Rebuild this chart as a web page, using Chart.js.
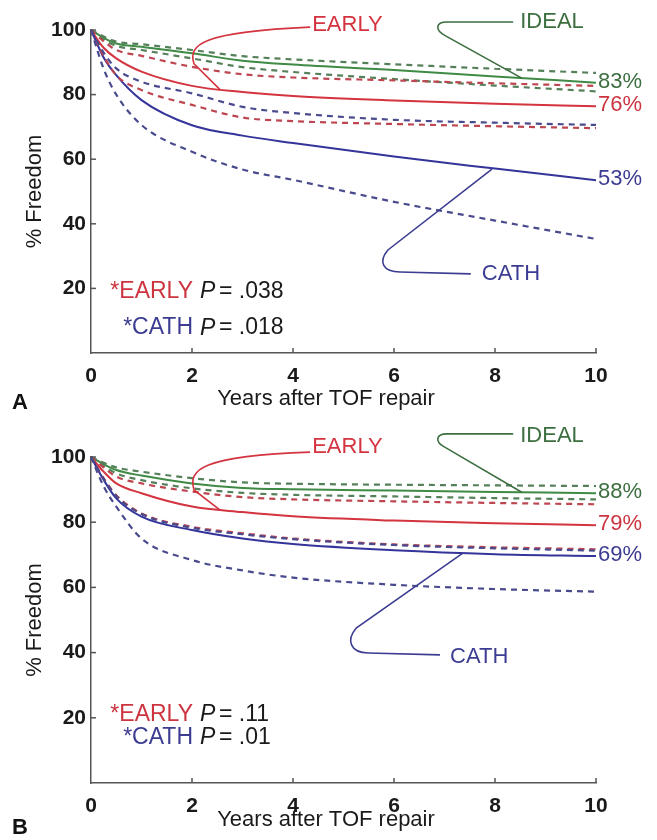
<!DOCTYPE html>
<html>
<head>
<meta charset="utf-8">
<script src="https://cdn.jsdelivr.net/npm/chart.js@4.4.1/dist/chart.umd.min.js"></script>
<style>
  html, body { margin: 0; padding: 0; background: #fff; }
  .panel { position: absolute; left: 0; width: 657px; height: 420px; }
  #panelA { top: 0; }
  #panelB { top: 420px; }
</style>
</head>
<body>
<div class="panel" id="panelA"><canvas id="chartA"></canvas></div>
<div class="panel" id="panelB"><canvas id="chartB"></canvas></div>
<script>
// years after repair where the curves were read
const years = [0, 0.25, 0.5, 1, 2, 3, 4, 6, 8, 10];
const xTicks = [0, 2, 4, 6, 8, 10];
const yTicks = [20, 40, 60, 80, 100];

// Panel A
const idealA      = [100, 97.6, 95.8, 94.8, 92.8, 90.5, 89.3, 87.6, 85.6, 83.7];
const idealHiA    = [100, 98.0, 96.4, 95.6, 93.8, 91.9, 90.9, 89.4, 88.0, 86.7];
const idealLoA    = [100, 97.0, 95.1, 93.8, 91.2, 88.5, 87.0, 84.8, 82.8, 81.0];
const earlyA      = [100, 94.5, 91.2, 87.1, 82.7, 80.8, 79.6, 78.2, 77.2, 76.4];
const earlyHiA    = [100, 96.5, 93.8, 92.0, 88.6, 86.3, 85.3, 84.4, 83.5, 82.7];
const earlyLoA    = [100, 92.0, 86.0, 81.4, 76.8, 72.9, 71.8, 70.9, 70.2, 69.6];
const cathA       = [100, 91.5, 86.0, 78.3, 70.5, 67.3, 65.0, 60.8, 57.1, 53.5];
const cathHiA     = [100, 93.0, 88.1, 84.0, 80.4, 76.2, 74.3, 72.2, 71.3, 70.6];
const cathLoA     = [100, 88.0, 80.0, 70.6, 62.3, 56.8, 53.6, 46.8, 41.0, 35.3];
const endLabelsA  = ['83%', '76%', '53%'];
const pValuesA    = ['.038', '.018'];

// Panel B
const idealB      = [100, 97.8, 96.0, 94.3, 91.9, 90.5, 90.1, 89.7, 89.3, 88.9];
const idealHiB    = [100, 98.2, 96.8, 95.5, 93.5, 92.2, 91.8, 91.5, 91.3, 91.1];
const idealLoB    = [100, 97.3, 95.0, 92.9, 90.4, 89.0, 88.4, 87.9, 87.4, 87.0];
const earlyB      = [100, 95.5, 91.9, 88.9, 84.8, 83.1, 81.8, 80.5, 79.7, 79.1];
const earlyHiB    = [100, 96.8, 94.0, 91.9, 89.4, 87.7, 87.0, 86.4, 85.9, 85.5];
const earlyLoB    = [100, 93.5, 88.3, 82.7, 78.6, 76.6, 75.0, 73.2, 72.3, 71.7];
const cathB       = [100, 93.0, 87.3, 81.7, 77.6, 75.0, 73.3, 71.4, 70.2, 69.6];
const cathHiB     = [100, 93.3, 88.0, 82.5, 78.3, 76.3, 74.8, 73.0, 72.0, 71.3];
const cathLoB     = [100, 91.0, 84.8, 75.0, 68.4, 65.2, 63.0, 60.8, 59.5, 58.7];
const endLabelsB  = ['88%', '79%', '69%'];
const pValuesB    = ['.11', '.01'];

const GREEN = '#3f8a44', RED = '#d3343f', BLUE = '#34349a';
const GREEN_D = '#55805a', RED_D = '#bd4650', BLUE_D = '#4a4a8e';
const GREEN_T = '#3c6e3f', RED_T = '#cc3440', BLUE_T = '#3c3c92';
const AXIS = '#555';
const FONT = "'Liberation Sans', Arial, Helvetica, sans-serif";

Chart.defaults.font.family = FONT;
Chart.defaults.color = '#1a1a1a';

function pts(vals) {
  return vals.map((v, i) => ({ x: years[i], y: v }));
}

function line(vals, color, dashed) {
  return {
    data: pts(vals),
    borderColor: color,
    borderWidth: dashed ? 2.2 : 2,
    borderDash: dashed ? [6, 5] : [],
    pointRadius: 0,
    cubicInterpolationMode: 'monotone',
    fill: false,
    clip: false
  };
}

// annotation drawing: ticks pointing inward, leader lines, labels
const overlay = {
  id: 'overlay',
  afterDraw(chart, args, o) {
    const { ctx, chartArea: ca, scales: { x, y } } = chart;
    const px = v => x.getPixelForValue(v);
    const py = v => y.getPixelForValue(v);
    ctx.save();

    ctx.strokeStyle = AXIS;
    ctx.lineWidth = 1.5;
    xTicks.forEach(t => {
      if (t === 0) return;
      ctx.beginPath();
      ctx.moveTo(px(t), ca.bottom);
      ctx.lineTo(px(t), ca.bottom - 5);
      ctx.stroke();
    });
    yTicks.forEach(t => {
      ctx.beginPath();
      ctx.moveTo(ca.left, py(t));
      ctx.lineTo(ca.left + 5, py(t));
      ctx.stroke();
    });

    ctx.textBaseline = 'middle';
    ctx.textAlign = 'left';

    // leader curves
    o.leaders.forEach(l => {
      ctx.strokeStyle = l.color;
      ctx.lineWidth = 1.6;
      ctx.beginPath();
      l.path.forEach(s => {
        if (s[0] === 'M') ctx.moveTo(px(s[1]), py(s[2]));
        else if (s[0] === 'L') ctx.lineTo(px(s[1]), py(s[2]));
        else ctx.bezierCurveTo(px(s[1]), py(s[2]), px(s[3]), py(s[4]), px(s[5]), py(s[6]));
      });
      ctx.stroke();
      ctx.fillStyle = l.color;
      ctx.font = '22px ' + FONT;
      ctx.fillText(l.text, px(l.at[0]), py(l.at[1]));
    });

    // end-of-curve percentages
    ctx.font = '22px ' + FONT;
    o.ends.forEach(e => {
      ctx.fillStyle = e.color;
      ctx.fillText(e.text, ca.right + 2, py(e.value) - 1);
    });

    // P values: name right-aligned, then italic P, then value
    o.pvals.forEach(p => {
      const cx = px(p.at[0]);
      const cy = py(p.at[1]);
      ctx.font = '23px ' + FONT;
      ctx.fillStyle = p.color;
      ctx.textAlign = 'right';
      ctx.fillText(p.name, cx, cy);
      ctx.textAlign = 'left';
      ctx.fillStyle = '#1a1a1a';
      ctx.font = 'italic 23px ' + FONT;
      ctx.fillText('P', cx + 7, cy);
      ctx.font = '23px ' + FONT;
      ctx.fillText('= ' + p.value, cx + 26, cy);
    });

    // x axis title (sits left of the plot centre in the original)
    ctx.font = '22px ' + FONT;
    ctx.fillStyle = '#1a1a1a';
    ctx.textAlign = 'center';
    ctx.fillText('Years after TOF repair', 326, o.titleY);

    // panel letter
    ctx.textAlign = 'left';
    ctx.font = 'bold 22px ' + FONT;
    ctx.fillStyle = '#111';
    ctx.fillText(o.letter, 12, o.letterY);
    ctx.restore();
  }
};

function makePanel(id, s, cfg) {
  return new Chart(document.getElementById(id), {
    type: 'line',
    data: {
      datasets: [
        line(s.cathLo, BLUE_D, true),
        line(s.cathHi, BLUE_D, true),
        line(s.earlyLo, RED_D, true),
        line(s.earlyHi, RED_D, true),
        line(s.idealLo, GREEN_D, true),
        line(s.idealHi, GREEN_D, true),
        line(s.cath, BLUE, false),
        line(s.early, RED, false),
        line(s.ideal, GREEN, false)
      ]
    },
    options: {
      responsive: true,
      maintainAspectRatio: false,
      animation: false,
      layout: { padding: { top: cfg.top, right: 61, bottom: 0, left: 0 } },
      plugins: {
        legend: { display: false },
        tooltip: { enabled: false },
        overlay: cfg.overlay
      },
      scales: {
        x: {
          type: 'linear',
          min: 0,
          max: 10,
          afterBuildTicks: sc => { sc.ticks = xTicks.map(v => ({ value: v })); },
          afterFit: sc => { sc.height = cfg.xHeight; },
          grid: { display: false, tickLength: 0 },
          border: { display: true, color: AXIS, width: 1.5 },
          ticks: { padding: 11, font: { size: 21, weight: 'bold' }, color: '#1a1a1a', maxRotation: 0 }
        },
        y: {
          min: 0,
          max: 100,
          afterBuildTicks: sc => { sc.ticks = yTicks.map(v => ({ value: v })); },
          afterFit: sc => { sc.width = 91; },
          grid: { display: false, tickLength: 0 },
          border: { display: true, color: AXIS, width: 1.5 },
          ticks: { padding: 5, font: { size: 21, weight: 'bold' }, color: '#1a1a1a' },
          title: {
            display: true,
            text: '% Freedom',
            font: { size: 22 },
            color: '#1a1a1a',
            padding: { top: 22, bottom: 0 }
          }
        }
      }
    },
    plugins: [overlay]
  });
}

makePanel('chartA', {
  ideal: idealA, idealHi: idealHiA, idealLo: idealLoA,
  early: earlyA, earlyHi: earlyHiA, earlyLo: earlyLoA,
  cath: cathA, cathHi: cathHiA, cathLo: cathLoA
}, {
  top: 30,
  xHeight: 67,
  overlay: {
    letter: 'A',
    letterY: 403,
    titleY: 399,
    leaders: [
      { color: RED, text: 'EARLY', at: [4.38, 101.5],
        path: [['M', 4.34, 100.9], ['C', 2.16, 99.4, 1.92, 95.4, 2.04, 89.5], ['L', 2.55, 81.6]] },
      { color: GREEN_T, text: 'IDEAL', at: [8.5, 102.5],
        path: [['M', 8.36, 102.5], ['L', 7.05, 102.5], ['C', 6.83, 102.5, 6.79, 100, 7.03, 98.1], ['L', 8.53, 85.1]] },
      { color: BLUE_T, text: 'CATH', at: [7.74, 24.5],
        path: [['M', 7.52, 24.5], ['L', 6.12, 25.1], ['C', 5.78, 25.1, 5.68, 28.2, 5.88, 31.9], ['L', 7.94, 56.9]] }
    ],
    ends: [
      { color: GREEN_T, text: endLabelsA[0], value: idealA[idealA.length - 1] },
      { color: RED_T, text: endLabelsA[1], value: earlyA[earlyA.length - 1] },
      { color: BLUE_T, text: endLabelsA[2], value: cathA[cathA.length - 1] }
    ],
    pvals: [
      { name: '*EARLY', color: RED_T, value: pValuesA[0], at: [2.02, 18.9] },
      { name: '*CATH', color: BLUE_T, value: pValuesA[1], at: [2.02, 7.7] }
    ]
  }
});

makePanel('chartB', {
  ideal: idealB, idealHi: idealHiB, idealLo: idealLoB,
  early: earlyB, earlyHi: earlyHiB, earlyLo: earlyLoB,
  cath: cathB, cathHi: cathHiB, cathLo: cathLoB
}, {
  top: 37,
  xHeight: 57,
  overlay: {
    letter: 'B',
    letterY: 408,
    titleY: 400,
    leaders: [
      { color: RED, text: 'EARLY', at: [4.38, 103],
        path: [['M', 4.34, 101.5], ['C', 2.16, 100.3, 1.92, 96, 2.04, 89.9], ['L', 2.55, 83.8]] },
      { color: GREEN_T, text: 'IDEAL', at: [8.5, 106.4],
        path: [['M', 8.36, 107.1], ['L', 7.05, 107.1], ['C', 6.83, 107.1, 6.79, 104.6, 7.03, 102.8], ['L', 8.53, 89.2]] },
      { color: BLUE_T, text: 'CATH', at: [7.11, 38.7],
        path: [['M', 6.91, 39.3], ['L', 5.49, 39.9], ['C', 5.13, 39.9, 5.05, 43.9, 5.25, 47.5], ['L', 7.37, 70.6]] }
    ],
    ends: [
      { color: GREEN_T, text: endLabelsB[0], value: idealB[idealB.length - 1] },
      { color: RED_T, text: endLabelsB[1], value: earlyB[earlyB.length - 1] },
      { color: BLUE_T, text: endLabelsB[2], value: cathB[cathB.length - 1] }
    ],
    pvals: [
      { name: '*EARLY', color: RED_T, value: pValuesB[0], at: [2.02, 20.9] },
      { name: '*CATH', color: BLUE_T, value: pValuesB[1], at: [2.02, 13.8] }
    ]
  }
});
</script>
</body>
</html>
